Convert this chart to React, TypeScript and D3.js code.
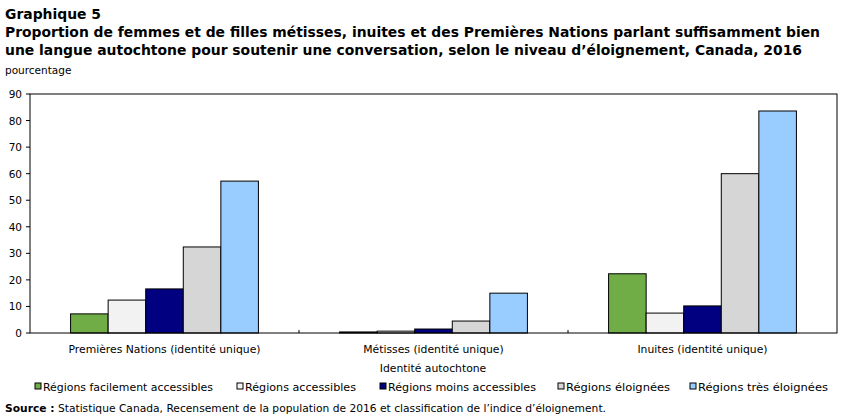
import React from "react";
import * as d3 from "d3";

// Catégories d'identité autochtone (axe horizontal)
const categories = [
  "Premières Nations (identité unique)",
  "Métisses (identité unique)",
  "Inuites (identité unique)",
];

// Niveaux d'éloignement (séries)
const seriesNames = [
  "Régions facilement accessibles",
  "Régions accessibles",
  "Régions moins accessibles",
  "Régions éloignées",
  "Régions très éloignées",
];

const seriesColors = ["#70AD47", "#F2F2F2", "#000080", "#D6D6D6", "#99CCFF"];

// Pourcentages par série, dans l'ordre des catégories
const facilementAccessibles = [7.2, 0.4, 22.3];
const accessibles = [12.4, 0.7, 7.5];
const moinsAccessibles = [16.6, 1.5, 10.2];
const eloignees = [32.4, 4.5, 60.0];
const tresEloignees = [57.2, 15.0, 83.6];

const seriesValues = [
  facilementAccessibles,
  accessibles,
  moinsAccessibles,
  eloignees,
  tresEloignees,
];

const yTicks = [0, 10, 20, 30, 40, 50, 60, 70, 80, 90];

const W = 852;
const H = 417;
const left = 30;
const right = 837;
const top = 94;
const bottom = 333;

const labelFont = "'DejaVu Sans', Verdana, sans-serif";

export default function App() {
  const x0 = d3.scaleBand<string>().domain(categories).range([left, right]).padding(0);
  const x1 = d3
    .scaleBand<string>()
    .domain(seriesNames)
    .range([0, x0.bandwidth()])
    .paddingInner(0)
    .paddingOuter(1.08);
  const y = d3.scaleLinear().domain([0, 90]).range([bottom, top]);

  const legendX = [35, 237, 380, 558, 690];
  const legendW = [170, 111, 148, 104, 130];

  return (
    <svg
      width={W}
      height={H}
      style={{ position: "absolute", left: 0, top: 0, background: "#fff" }}
      fontFamily={labelFont}
    >
      {/* Titre */}
      <g fontWeight="bold" fontSize={13.5} fill="#000">
        <text x={5} y={19} textLength={96} lengthAdjust="spacingAndGlyphs">Graphique 5</text>
        <text x={5} y={37} textLength={815} lengthAdjust="spacingAndGlyphs">
          Proportion de femmes et de filles métisses, inuites et des Premières Nations parlant suffisamment  bien
        </text>
        <text x={5} y={55} textLength={797} lengthAdjust="spacingAndGlyphs">
          une langue autochtone pour soutenir une conversation, selon le niveau d’éloignement, Canada, 2016
        </text>
      </g>
      <text x={5} y={74} fontSize={10.5} fill="#000">pourcentage</text>

      {/* Axe vertical */}
      {yTicks.map((t) => (
        <g key={t}>
          <line x1={left - 4} x2={left} y1={y(t)} y2={y(t)} stroke="#000" />
          <text x={left - 8} y={y(t) + 4} fontSize={10.5} textAnchor="end" fill="#000">
            {t}
          </text>
        </g>
      ))}

      {/* Barres */}
      {categories.map((c, ci) => (
        <g key={c} transform={`translate(${x0(c)},0)`}>
          {seriesNames.map((s, si) => {
            const v = seriesValues[si][ci];
            return (
              <rect
                key={s}
                x={x1(s)}
                y={y(v)}
                width={x1.bandwidth()}
                height={bottom - y(v)}
                fill={seriesColors[si]}
                stroke="#000"
                strokeWidth={1}
              />
            );
          })}
        </g>
      ))}

      {/* Cadre */}
      <rect x={left} y={top} width={right - left} height={bottom - top} fill="none" stroke="#000" strokeWidth={1} />

      {/* Graduations de l'axe horizontal */}
      {categories.slice(1).map((c) => (
        <line key={c} x1={x0(c)} x2={x0(c)} y1={bottom} y2={bottom - 3} stroke="#000" />
      ))}

      {categories.map((c) => (
        <text
          key={c}
          x={(x0(c) as number) + x0.bandwidth() / 2}
          y={353}
          fontSize={10.8}
          textAnchor="middle"
          fill="#000"
        >
          {c}
        </text>
      ))}
      <text x={433} y={372} fontSize={10.8} textAnchor="middle" fill="#000">
        Identité autochtone
      </text>

      {/* Légende */}
      {seriesNames.map((s, i) => (
        <g key={s}>
          <rect x={legendX[i]} y={383} width={6} height={6} fill={seriesColors[i]} stroke="#000" />
          <text
            x={legendX[i] + 8}
            y={391}
            fontSize={10.8}
            fill="#000"
            textLength={legendW[i]}
            lengthAdjust="spacingAndGlyphs"
          >
            {s}
          </text>
        </g>
      ))}

      {/* Source */}
      <text x={5} y={412} fontSize={10.8} fill="#000" textLength={601} lengthAdjust="spacingAndGlyphs">
        <tspan fontWeight="bold">Source :</tspan>
        <tspan> Statistique Canada, Recensement de la population de 2016 et classification de l’indice d’éloignement.</tspan>
      </text>
    </svg>
  );
}
